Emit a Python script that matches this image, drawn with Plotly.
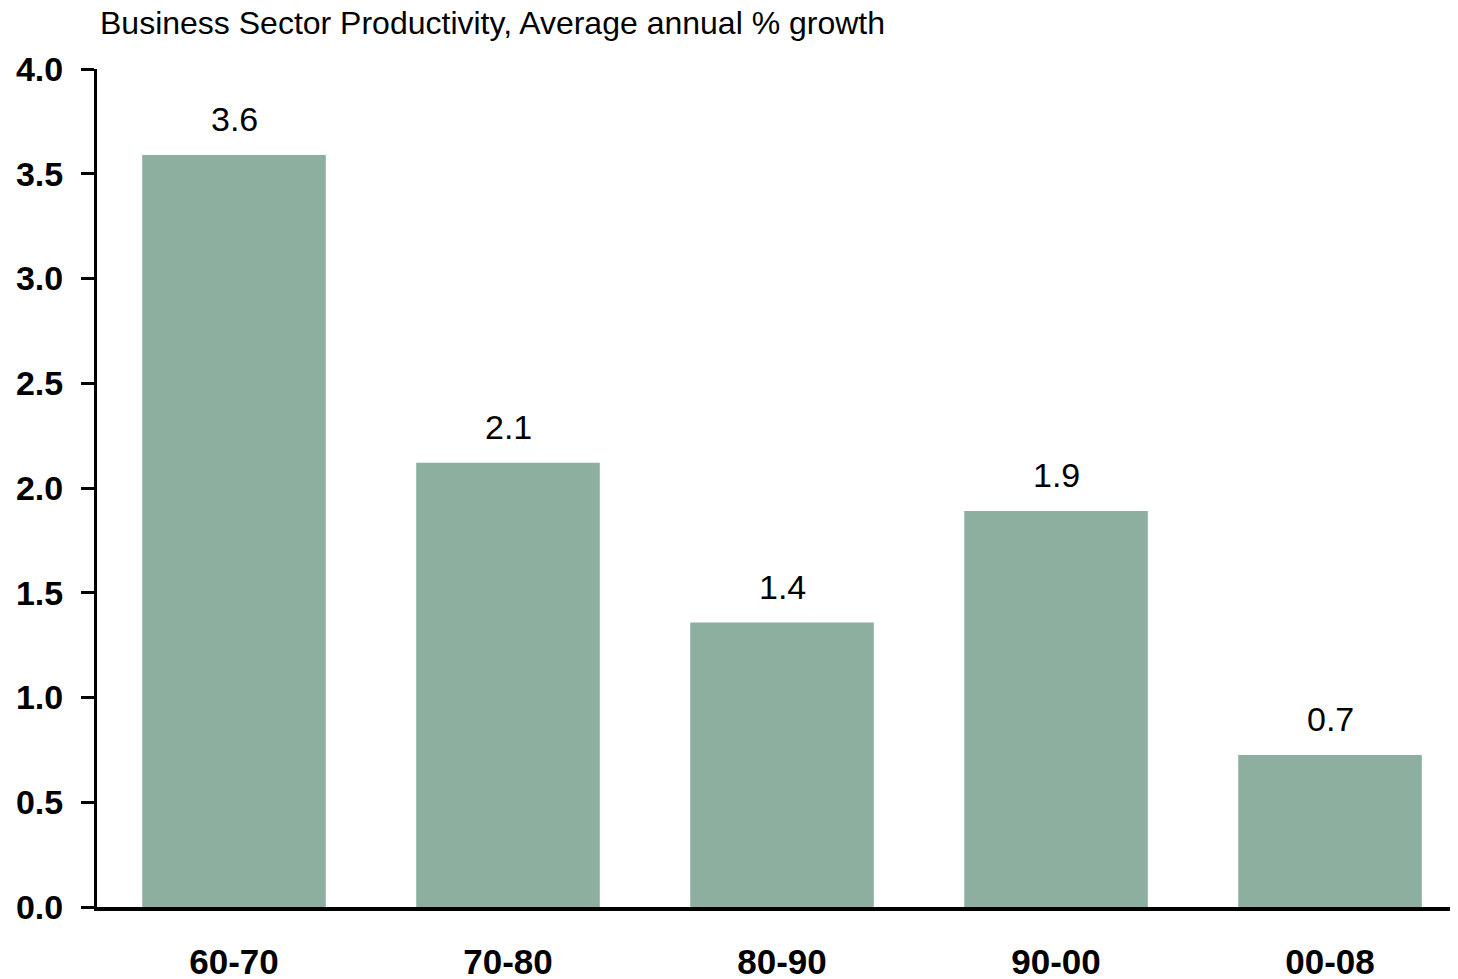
import plotly.graph_objects as go

categories = ["60-70", "70-80", "80-90", "90-00", "00-08"]
values = [3.59, 2.12, 1.358, 1.89, 0.725]
y_ticks = [0.0, 0.5, 1.0, 1.5, 2.0, 2.5, 3.0, 3.5, 4.0]
title_text = "Business Sector Productivity, Average annual % growth"

FONT = "Liberation Sans, Arial, sans-serif"
# page body has an 8px margin, so the figure starts at (8, 8)
W, H = 1450, 971

fig = go.Figure()
fig.add_trace(go.Bar(
    x=categories, y=values, width=0.67,
    marker=dict(color="#8DAFA0", line=dict(width=0)),
    hoverinfo="skip",
))

for c, v in zip(categories, values):
    fig.add_annotation(
        x=c, y=v, xref="x", yref="y", text=f"{v:.1f}",
        showarrow=False, yanchor="bottom", yshift=15,
        font=dict(family=FONT, size=34, color="black"),
    )

fig.update_layout(
    width=W, height=H,
    margin=dict(l=89, r=0, t=61, b=72, autoexpand=False),
    paper_bgcolor="white", plot_bgcolor="white",
    showlegend=False,
    title=dict(
        text=title_text, xref="container", yref="container",
        x=92 / W, xanchor="left", y=1 - 15 / H, yanchor="middle",
        font=dict(family=FONT, size=32, color="black"),
    ),
    font=dict(family=FONT, color="black"),
)

fig.update_xaxes(
    type="category", range=[-0.5, 4.467],
    showline=True, linecolor="black", linewidth=4,
    ticks="", showgrid=False, zeroline=False,
    tickfont=dict(family=FONT, size=35, color="black", weight="bold"),
    ticklabelstandoff=21,
)
fig.update_yaxes(
    range=[0, 4], tickvals=y_ticks, ticktext=[f"{t:.1f}" for t in y_ticks],
    showline=True, linecolor="black", linewidth=3,
    ticks="outside", ticklen=13, tickwidth=3, tickcolor="black",
    showgrid=False, zeroline=False,
    tickfont=dict(family=FONT, size=34, color="black", weight="bold"),
    ticklabelstandoff=11,
)

fig.write_html("out.html")
